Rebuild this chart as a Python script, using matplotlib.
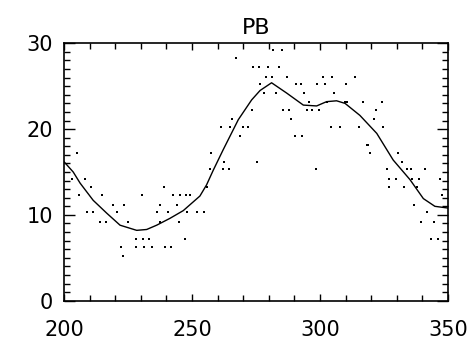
import matplotlib
matplotlib.use("Agg")
import matplotlib.pyplot as plt
from matplotlib.ticker import MultipleLocator

# scatter points, grouped by level
pt_x = [
    281.8, 285.0,
    267.2,
    273.7, 276.1, 279.8, 284.1,
    278.9, 281.3, 287.2, 301.1, 304.8, 313.8,
    276.7, 290.7, 292.5, 298.9, 302.0, 310.1,
    278.2, 282.7, 293.8, 305.6,
    295.9, 302.6, 309.6, 310.7, 316.7, 324.1,
    273.3, 285.7, 287.9, 295.1, 296.7, 299.7, 321.9,
    265.8, 288.7, 321.1,
    261.2, 264.8, 270.0, 271.8, 304.2, 307.8, 315.1, 324.7,
    268.6, 290.1, 293.0,
    318.2, 318.9,
    205.2, 257.6, 319.4, 330.6,
    262.6, 275.3, 332.0,
    257.0, 262.0, 264.3, 298.3, 326.1, 334.2, 335.4, 341.0,
    203.0, 208.2, 327.1, 329.9, 335.8, 338.8, 346.9,
    210.4, 239.1, 256.0, 327.1, 332.9, 338.1,
    205.9, 214.7, 230.3, 242.7, 245.5, 247.8, 249.4, 347.8,
    219.2, 223.5, 237.7, 244.1, 336.6,
    208.8, 211.5, 220.7, 236.2, 240.5, 247.9, 251.8, 254.7, 341.8,
    214.1, 216.4, 225.1, 237.7, 244.8, 339.5, 344.6,
    228.0, 230.9, 233.2, 247.3, 343.2, 346.3,
    222.3, 228.3, 231.1, 234.4, 239.5, 241.7,
    222.9,
]
pt_y = [
    29.2, 29.2,
    28.3,
    27.2, 27.2, 27.2, 27.2,
    26.1, 26.1, 26.1, 26.1, 26.1, 26.1,
    25.2, 25.2, 25.2, 25.2, 25.2, 25.2,
    24.2, 24.2, 24.2, 24.2,
    23.2, 23.2, 23.2, 23.2, 23.2, 23.2,
    22.2, 22.2, 22.2, 22.2, 22.2, 22.2, 22.2,
    21.2, 21.2, 21.2,
    20.2, 20.2, 20.2, 20.2, 20.2, 20.2, 20.2, 20.2,
    19.2, 19.2, 19.2,
    18.2, 18.2,
    17.2, 17.2, 17.2, 17.2,
    16.2, 16.2, 16.2,
    15.3, 15.3, 15.3, 15.3, 15.3, 15.3, 15.3, 15.3,
    14.2, 14.2, 14.2, 14.2, 14.2, 14.2, 14.2,
    13.3, 13.3, 13.3, 13.3, 13.3, 13.3,
    12.3, 12.3, 12.3, 12.3, 12.3, 12.3, 12.3, 12.3,
    11.2, 11.2, 11.2, 11.2, 11.2,
    10.3, 10.3, 10.3, 10.3, 10.3, 10.3, 10.3, 10.3, 10.3,
    9.2, 9.2, 9.2, 9.2, 9.2, 9.2, 9.2,
    7.2, 7.2, 7.2, 7.2, 7.2, 7.2,
    6.3, 6.3, 6.3, 6.3, 6.3, 6.3,
    5.2,
]

# smooth curve
fit_x = [200.0, 203.6, 206.3, 211.4, 216.7, 221.9, 228.4, 232.3, 236.2, 241.4,
         246.6, 253.1, 255.7, 258.3, 262.2, 268.1, 273.3, 276.6, 281.1, 287.0,
         293.5, 298.7, 302.6, 306.5, 309.8, 315.6, 322.2, 328.6, 335.2, 340.4,
         344.9, 350.0]
fit_y = [16.2, 15.0, 13.7, 11.7, 10.2, 8.8, 8.2, 8.3, 8.8, 9.6,
         10.5, 12.2, 13.5, 15.2, 17.6, 21.1, 23.4, 24.5, 25.4, 24.2,
         22.8, 22.7, 23.2, 23.3, 23.0, 21.6, 19.5, 16.4, 14.1, 11.9,
         11.0, 10.8]

title = "PB"

fig = plt.figure(figsize=(4.73, 3.40), dpi=100)
ax = fig.add_axes([0.1353, 0.1156, 0.947 - 0.1353, 0.8726 - 0.1156])
ax.scatter(pt_x, pt_y, s=1.5, c="black", marker="s", linewidths=0)
ax.plot(fit_x, fit_y, color="black", lw=1.0)
ax.set_xlim(200, 350)
ax.set_ylim(0, 30)
ax.xaxis.set_major_locator(MultipleLocator(50))
ax.xaxis.set_minor_locator(MultipleLocator(10))
ax.yaxis.set_major_locator(MultipleLocator(10))
ax.yaxis.set_minor_locator(MultipleLocator(1))
ax.tick_params(which="both", direction="in", top=True, right=True, colors="black")
ax.tick_params(axis="x", which="major", length=5, width=1, pad=14, labelsize=15)
ax.tick_params(axis="x", which="minor", length=4, width=1)
ax.tick_params(axis="y", which="major", length=8, width=1, pad=8, labelsize=15)
ax.tick_params(axis="y", which="minor", length=4, width=1)
for s in ax.spines.values():
    s.set_linewidth(1.2)
ax.set_title(title, fontsize=16, pad=7)
fig.savefig("out.png", dpi=100)
